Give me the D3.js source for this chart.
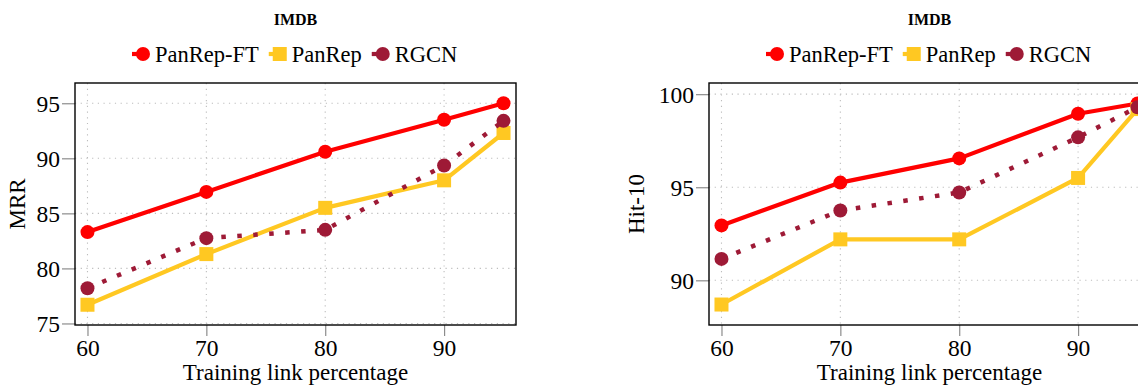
<!DOCTYPE html>
<html><head><meta charset="utf-8">
<script src="https://cdn.jsdelivr.net/npm/d3@7"></script>
<style>html,body{margin:0;padding:0;background:#fff;overflow:hidden}svg{display:block}</style>
</head><body>
<svg id="c" width="1138" height="385"></svg>
<script>
const categories = [60, 70, 80, 90, 95];
const xTicks = [60, 70, 80, 90];
const seriesNames = ["PanRep-FT", "PanRep", "RGCN"];
const mrrPanRepFT = [83.3, 86.95, 90.6, 93.5, 95.0];
const mrrPanRep   = [76.7, 81.3, 85.5, 88.0, 92.3];
const mrrRGCN     = [78.2, 82.75, 83.5, 89.35, 93.4];
const hitPanRepFT = [92.95, 95.25, 96.55, 98.95, 99.5];
const hitPanRep   = [88.7, 92.2, 92.2, 95.5, 99.2];
const hitRGCN     = [91.15, 93.75, 94.72, 97.68, 99.3];
const mrrTicks = [75, 80, 85, 90, 95];
const hitTicks = [90, 95, 100];
const titles = ["IMDB", "IMDB"];
const yLabels = ["MRR", "Hit-10"];
const xLabel = "Training link percentage";

const colors = ["#ff0000", "#ffc822", "#9e1a36"];
const FONT = "'Liberation Serif','Times New Roman',serif";
const svg = d3.select("#c");

const panels = [
  {left: 75, yDomain: [74.86, 96.84], yTicks: mrrTicks, series: [mrrPanRepFT, mrrPanRep, mrrRGCN], title: titles[0], ylab: yLabels[0], ylabX: 18},
  {left: 709, yDomain: [87.6, 100.6], yTicks: hitTicks, series: [hitPanRepFT, hitPanRep, hitRGCN], title: titles[1], ylab: yLabels[1], ylabX: 637}
];
const W = 441, TOP = 83, BOT = 325;

function marker(g, type, cx, cy, color) {
  if (type === "square") {
    g.append("rect").attr("x", cx - 7).attr("y", cy - 7).attr("width", 14).attr("height", 14).attr("fill", color);
  } else {
    g.append("circle").attr("cx", cx).attr("cy", cy).attr("r", 7).attr("fill", color);
  }
}
const mtypes = ["circle", "square", "circle"];

panels.forEach(p => {
  const x = d3.scaleLinear().domain([58.95, 96.05]).range([p.left, p.left + W]);
  const y = d3.scaleLinear().domain(p.yDomain).range([BOT, TOP]);
  const g = svg.append("g");
  const cx = p.left + W / 2;

  // grid
  const grid = g.append("g").attr("stroke", "#bdbdbd").attr("stroke-width", 1.1).attr("stroke-dasharray", "1.2,4.5");
  xTicks.forEach(t => grid.append("line").attr("x1", x(t)).attr("x2", x(t)).attr("y1", TOP).attr("y2", BOT));
  p.yTicks.forEach(t => grid.append("line").attr("x1", p.left).attr("x2", p.left + W).attr("y1", y(t)).attr("y2", y(t)));

  // axes
  const xa = d3.axisBottom(x).tickValues(xTicks).tickSize(11).tickPadding(4).tickFormat(d3.format("d"));
  const ya = d3.axisLeft(y).tickValues(p.yTicks).tickSize(13).tickPadding(2).tickFormat(d3.format("d"));
  const gx = g.append("g").attr("transform", `translate(0,${BOT})`).call(xa);
  const gy = g.append("g").attr("transform", `translate(${p.left},0)`).call(ya);
  [gx, gy].forEach(a => {
    a.select(".domain").remove();
    a.selectAll(".tick line").attr("stroke", "#8c8c8c").attr("stroke-width", 1.2);
    a.selectAll(".tick text").attr("font-family", FONT).attr("font-size", 23.5).attr("fill", "#000");
  });
  gy.selectAll(".tick text").attr("dy", "0.34em");
  gx.selectAll(".tick text").attr("dy", "0.68em");

  // box
  g.append("rect").attr("x", p.left).attr("y", TOP).attr("width", W).attr("height", BOT - TOP)
    .attr("fill", "none").attr("stroke", "#000").attr("stroke-width", 1.4);

  // lines
  p.series.forEach((vals, i) => {
    const data = categories.map((c, k) => [c, vals[k]]);
    const line = d3.line().x(d => x(d[0])).y(d => y(d[1]));
    const path = g.append("path").datum(data).attr("d", line).attr("fill", "none")
      .attr("stroke", colors[i]).attr("stroke-width", 4.2).attr("stroke-linejoin", "round");
    if (i === 2) path.attr("stroke-dasharray", "4.5,11.5").attr("stroke-width", 4.5);
    const mg = g.append("g");
    data.forEach(d => marker(mg, mtypes[i], x(d[0]), y(d[1]), colors[i]));
  });

  // title
  g.append("text").attr("x", cx).attr("y", 25).attr("text-anchor", "middle")
    .attr("font-family", FONT).attr("font-weight", "bold").attr("font-size", 16).text(p.title);

  // x label
  g.append("text").attr("x", cx).attr("y", 380).attr("text-anchor", "middle")
    .attr("font-family", FONT).attr("font-size", 23).text(xLabel);
  // y label
  g.append("text").attr("transform", `translate(${p.ylabX + 7},${(TOP + BOT) / 2}) rotate(-90)`)
    .attr("text-anchor", "middle").attr("font-family", FONT).attr("font-size", 23).text(p.ylab);

  // legend
  const lg = g.append("g");
  let lx = p.left + 57;
  const ly = 54;
  seriesNames.forEach((name, i) => {
    lg.append("line").attr("x1", lx).attr("x2", lx + 11).attr("y1", ly).attr("y2", ly)
      .attr("stroke", colors[i]).attr("stroke-width", 4.2);
    marker(lg, mtypes[i], lx + 11, ly, colors[i]);
    const t = lg.append("text").attr("x", lx + 23).attr("y", ly + 7.5).attr("font-family", FONT)
      .attr("font-size", 22.5).text(name);
    lx = lx + 23 + t.node().getComputedTextLength() + 10;
  });
});
</script>
</body></html>
